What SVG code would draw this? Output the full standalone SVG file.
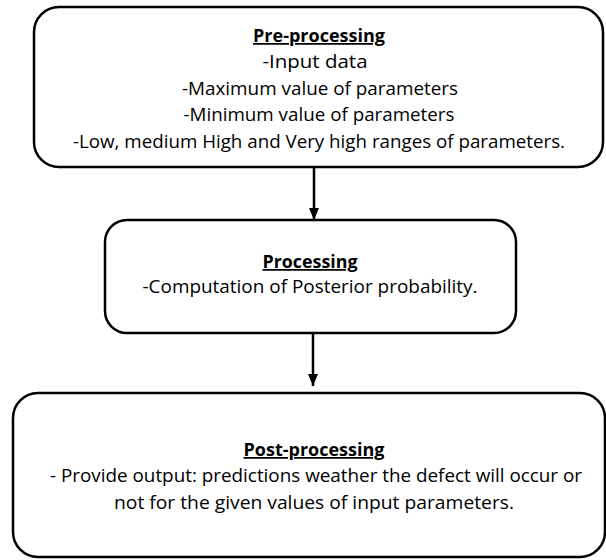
<svg xmlns="http://www.w3.org/2000/svg" width="606" height="560" viewBox="0 0 606 560">
<style>
.box{fill:#fff;stroke:#000;stroke-width:2.5}
text{font-family:"Open Sans","Liberation Sans",sans-serif;font-size:17.5px;fill:#000;text-anchor:middle}
.t{font-weight:bold;text-decoration:underline}
.c{stroke:#000;stroke-width:2.5;fill:none}
</style>
<defs>
<marker id="ah" viewBox="0 0 12 10" refX="12" refY="5" markerWidth="12" markerHeight="10" orient="auto" markerUnits="userSpaceOnUse">
<path d="M0,0 L12,5 L0,10 z" fill="#000"/>
</marker>
</defs>
<g id="connectors">
<line class="c" x1="314" y1="167" x2="314" y2="220" marker-end="url(#ah)"/>
<line class="c" x1="313" y1="333" x2="313" y2="386" marker-end="url(#ah)"/>
</g>
<g id="preprocessing">
<rect class="box" x="34" y="7" width="569" height="160" rx="25"/>
<text class="t" x="319" y="42" textLength="132" lengthAdjust="spacingAndGlyphs">Pre-processing</text>
<text x="315" y="68" textLength="105" lengthAdjust="spacingAndGlyphs">-Input data</text>
<text x="320" y="95" textLength="276" lengthAdjust="spacingAndGlyphs">-Maximum value of parameters</text>
<text x="319" y="121" textLength="271" lengthAdjust="spacingAndGlyphs">-Minimum value of parameters</text>
<text x="319" y="148" textLength="492" lengthAdjust="spacingAndGlyphs">-Low, medium High and Very high ranges of parameters.</text>
</g>
<g id="processing">
<rect class="box" x="105" y="220" width="411" height="113" rx="22"/>
<text class="t" x="310" y="268" textLength="95" lengthAdjust="spacingAndGlyphs">Processing</text>
<text x="310" y="293" textLength="335" lengthAdjust="spacingAndGlyphs">-Computation of Posterior probability.</text>
</g>
<g id="postprocessing">
<rect class="box" x="13" y="393" width="592" height="164" rx="25"/>
<text class="t" x="314" y="456" textLength="141" lengthAdjust="spacingAndGlyphs">Post-processing</text>
<text x="316" y="482" textLength="532" lengthAdjust="spacingAndGlyphs">- Provide output: predictions weather the defect will occur or</text>
<text x="314" y="509" textLength="400" lengthAdjust="spacingAndGlyphs">not for the given values of input parameters.</text>
</g>
</svg>
